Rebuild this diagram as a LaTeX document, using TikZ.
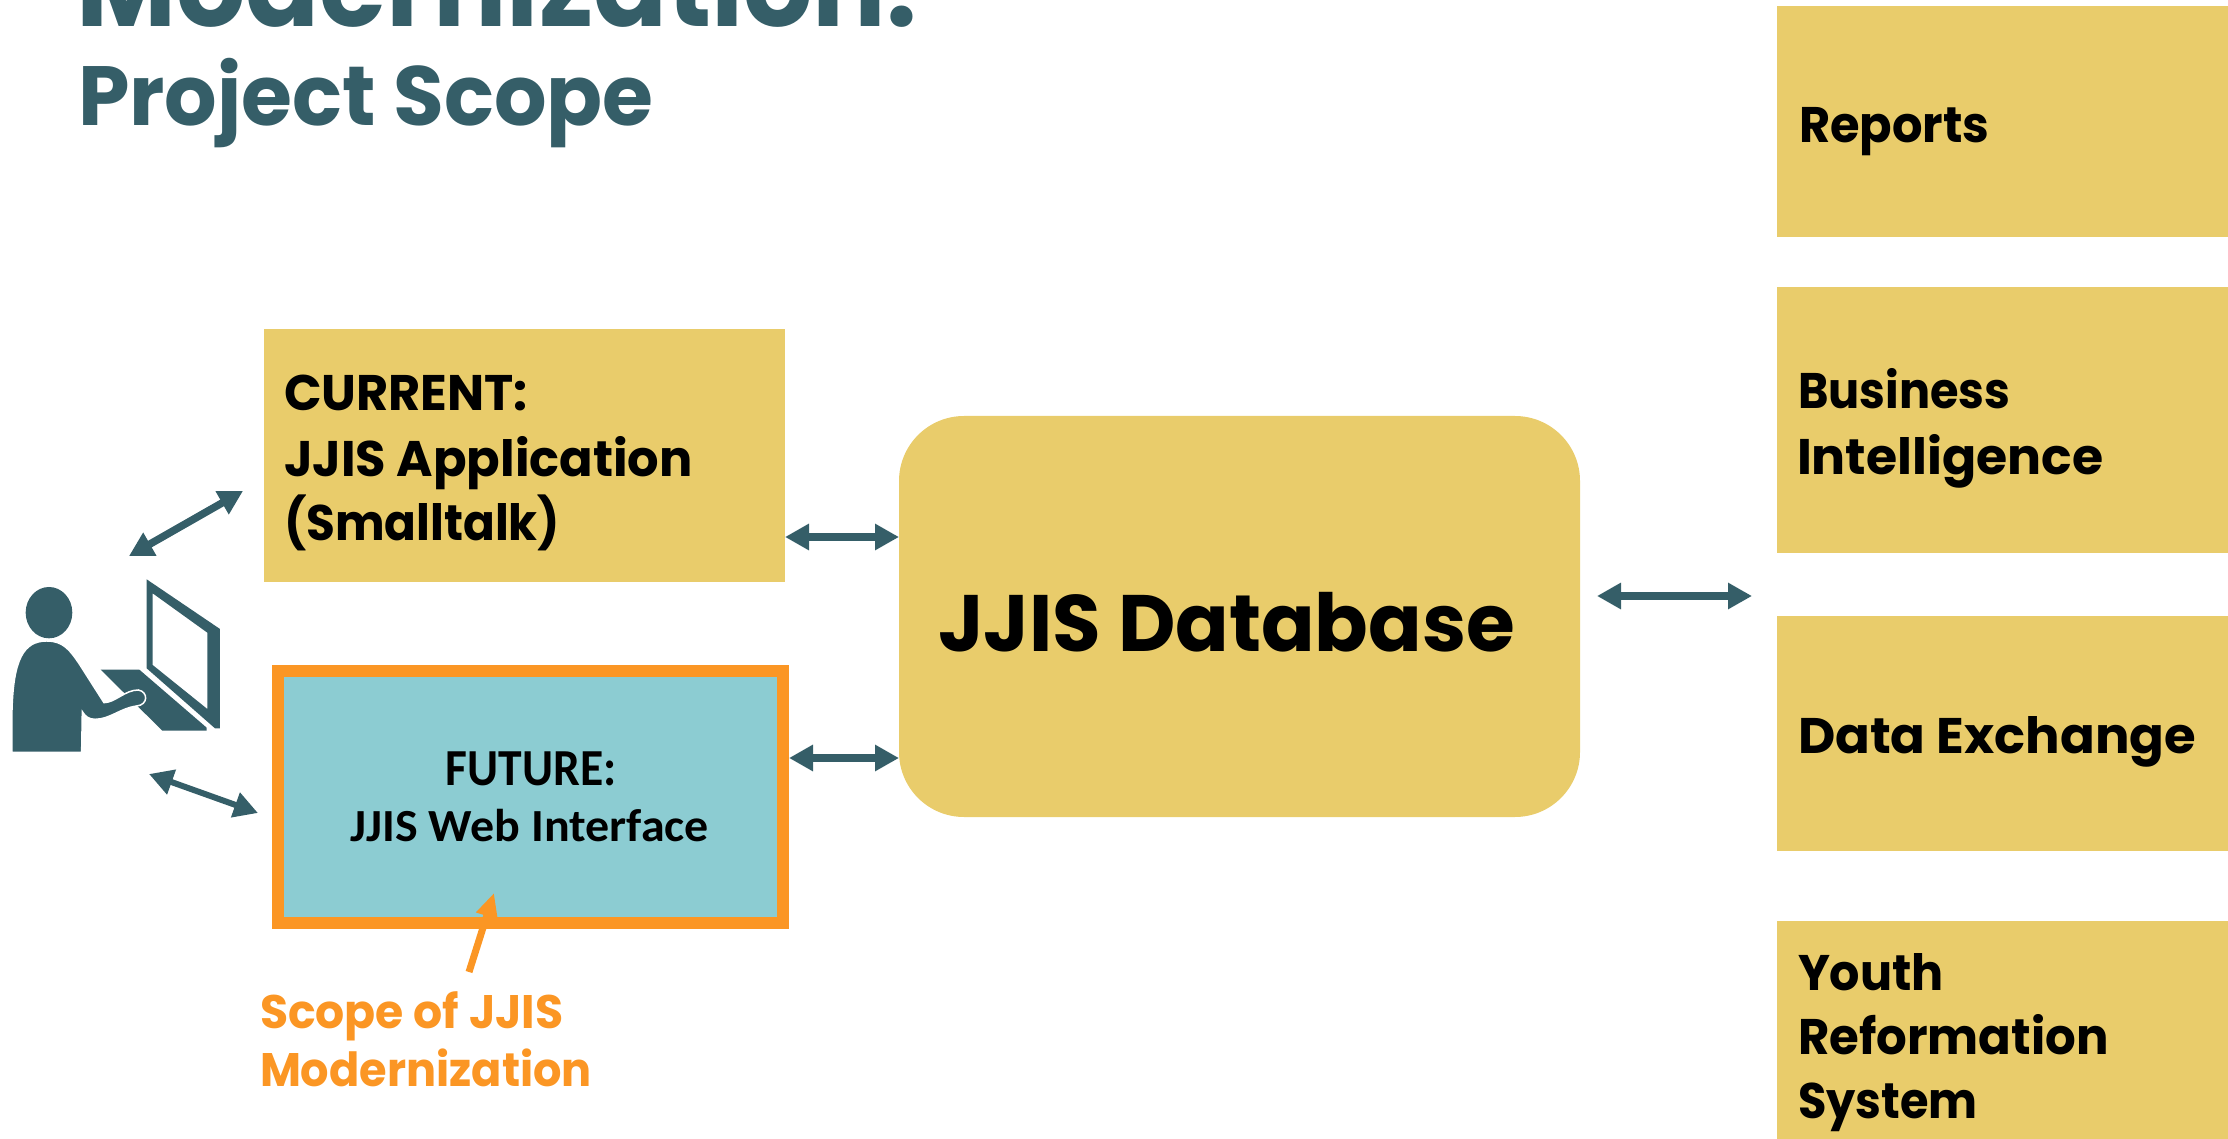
\documentclass[tikz,border=0pt]{standalone}
\usepackage{fontspec}
\setmainfont{Poppins}
\newfontfamily\calfont{Carlito}
\usetikzlibrary{arrows.meta}
\definecolor{teal}{HTML}{355E68}
\definecolor{gold}{HTML}{E9CC6B}
\definecolor{aqua}{HTML}{8CCCD2}
\definecolor{orng}{HTML}{FB9624}
\newcommand{\fs}[1]{\fontsize{#1}{#1}\selectfont\bfseries}
\newcommand{\hs}[2]{\scalebox{#1}[1]{#2}}
\tikzset{
  x=1pt,y=-1pt,
  goldbox/.style={fill=gold,draw=none,inner sep=0pt,outer sep=0pt,anchor=north west},
  label/.style={anchor=base west,inner sep=0pt,outer sep=0pt,text=black,align=left},
  biarrow/.style={teal,line width=7.5pt,{Triangle[length=24pt,width=25pt]}-{Triangle[length=24pt,width=25pt]}},
}
\begin{document}
\begin{tikzpicture}
\useasboundingbox (0,0) rectangle (2228,1139);
\clip (0,0) rectangle (2228,1139);
% title
\node[label,text=teal] (title) at (76,27) {\fs{115}\hs{0.948}{Modernization:}};
\node[label,text=teal] (sub) at (78,126) {\fs{84}\hs{0.983}{Project Scope}};
% right column
\node[goldbox,minimum width=451pt,minimum height=231pt] (rep) at (1777,6) {};
\node[goldbox,minimum width=451pt,minimum height=266pt] (bi) at (1777,287) {};
\node[goldbox,minimum width=451pt,minimum height=235pt] (dx) at (1777,616) {};
\node[goldbox,minimum width=451pt,minimum height=218pt] (yrs) at (1777,921) {};
\node[label] (treport) at (1799,143) {\fs{50}\hs{0.958}{Reports}};
\node[label] (tbi1) at (1798,409) {\fs{50}\hs{0.925}{Business}};
\node[label] (tbi2) at (1797,474) {\fs{50}\hs{1.01}{Intelligence}};
\node[label] (tdx) at (1798,753) {\fs{50}\hs{1.026}{Data Exchange}};
\node[label] (ty1) at (1798,990) {\fs{50}\hs{0.953}{Youth}};
\node[label] (ty2) at (1798,1054) {\fs{50}\hs{0.964}{Reformation}};
\node[label] (ty3) at (1798,1118) {\fs{50}\hs{0.925}{System}};
% current
\node[goldbox,minimum width=521pt,minimum height=253pt] (cur) at (264,329) {};
\node[label] (tc1) at (284,411) {\fs{50}\hs{0.988}{CURRENT:}};
\node[label] (tc2) at (284,476) {\fs{50}\hs{0.99}{JJIS Application}};
\node[label] (tc3) at (284,540) {\fs{50}\hs{0.937}{(Smalltalk)}};
% future
\node[fill=aqua,draw=orng,line width=12pt,inner sep=0pt,outer sep=6pt,anchor=north west,minimum width=505pt,minimum height=252pt] (fut) at (272,665) {};
\node[anchor=base,inner sep=0pt,text=black] (tf1) at (531,785) {\calfont\fs{52}\hs{0.915}{FUTURE:}};
\node[anchor=base,inner sep=0pt,text=black] (tf2) at (530,841) {\calfont\fs{46}\hs{1.043}{JJIS Web Interface}};
% database
\node[fill=gold,rounded corners=65pt,inner sep=0pt,outer sep=0pt,anchor=north west,minimum width=681pt,minimum height=401pt] (db) at (899,416) {};
\node[label] (tdb) at (938,651) {\fs{80}\hs{0.988}{JJIS Database}};
% scope label
\node[label,text=orng] (ts1) at (260,1028) {\fs{47}\hs{0.973}{Scope of JJIS}};
\node[label,text=orng] (ts2) at (260,1086) {\fs{47}\hs{0.95}{Modernization}};
% person
\begin{scope}[shift={(0,460)},x=0.3333pt,y=-0.3333pt]
\fill[teal] (147,458) ellipse [x radius=70,y radius=77];
\fill[teal,even odd rule] (440,358) -- (660,507) -- (660,805) -- (645,805) -- (440,625) -- cycle
   (458,400) -- (622,518) -- (622,747) -- (458,615) -- cycle;
\fill[teal] (302,629) -- (418,629) -- (620,803) -- (620,812) -- (487,812) -- cycle;
\draw[white,line width=1.5pt,fill=teal] (36,877) -- (36,750) .. controls (40,600) and (70,543) .. (140,543)
  .. controls (190,543) and (210,570) .. (240,615) -- (312,728)
  .. controls (345,728) and (375,690) .. (415,690)
  .. controls (445,695) and (445,735) .. (410,738)
  .. controls (360,745) and (330,778) .. (285,778)
  .. controls (265,778) and (255,768) .. (247,755) -- (245,877) -- cycle;
\end{scope}
\coordinate (u1) at (129,556);
\coordinate (u2) at (243,491);
\coordinate (u3) at (149,774);
\coordinate (u4) at (258,813);
\coordinate (l1) at (0,537);
\coordinate (l2) at (0,758);
\coordinate (l3) at (0,596);
\coordinate (r3) at (1752,596);
\coordinate (o1) at (469,972);
\coordinate (o2) at (494,893);
% connectors
\draw[biarrow] (u1) -- (u2);
\draw[biarrow,line width=6pt] (u3) -- (u4);
\draw[biarrow] (cur.east |- l1) -- (db.west |- l1);
\draw[biarrow] (fut.east |- l2) -- (db.west |- l2);
\draw[biarrow,shorten <=17pt] (db.east |- l3) -- (r3);
\draw[orng,line width=7pt,-{Triangle[length=24pt,width=21pt]}] (o1) -- (o2);
\end{tikzpicture}
\end{document}
